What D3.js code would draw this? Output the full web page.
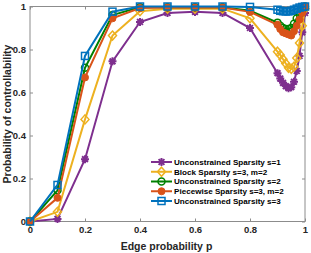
<!DOCTYPE html>
<html>
<head>
<meta charset="utf-8">
<script src="https://cdn.jsdelivr.net/npm/d3@7"></script>
<style>
  body { margin: 0; background: #fff; }
  svg { display: block; font-family: "Liberation Sans", Arial, sans-serif; }
</style>
</head>
<body>
<svg id="chart" width="311" height="253"></svg>
<script>
// edge probability grid (dense near 1)
const edgeP = [0, 0.1, 0.2, 0.3, 0.4, 0.5, 0.6, 0.7, 0.8,
               0.9, 0.91, 0.92, 0.93, 0.94, 0.95, 0.96, 0.97, 0.98, 0.99, 1];

const unconS1 = [0, 0.012, 0.29, 0.745, 0.928, 0.97, 0.975, 0.97, 0.90,
                 0.69, 0.665, 0.645, 0.63, 0.62, 0.625, 0.65, 0.70, 0.77, 0.88, 0.97];
const blockS3 = [0, 0.045, 0.475, 0.865, 0.978, 0.99, 0.99, 0.99, 0.945,
                 0.79, 0.775, 0.755, 0.735, 0.715, 0.71, 0.72, 0.76, 0.83, 0.91, 0.99];
const unconS2 = [0, 0.145, 0.715, 0.96, 0.997, 0.997, 0.997, 0.997, 0.98,
                 0.925, 0.91, 0.90, 0.895, 0.895, 0.90, 0.92, 0.945, 0.965, 0.985, 1];
const pieceS3 = [0, 0.11, 0.67, 0.945, 0.993, 0.995, 0.995, 0.995, 0.975,
                 0.915, 0.895, 0.88, 0.875, 0.87, 0.865, 0.885, 0.91, 0.94, 0.97, 1];
const unconS3 = [0, 0.17, 0.77, 0.976, 1, 1, 1, 1, 0.998,
                 0.985, 0.98, 0.978, 0.977, 0.977, 0.98, 0.985, 0.99, 0.995, 0.998, 1];

const seriesNames = ['Unconstrained Sparsity s=1', 'Block Sparsity s=3, m=2',
                     'Unconstrained Sparsity s=2', 'Piecewise Sparsity s=3, m=2',
                     'Unconstrained Sparsity s=3'];
const xTicks = [0, 0.2, 0.4, 0.6, 0.8, 1];
const yTicks = [0, 0.2, 0.4, 0.6, 0.8, 1];

const series = [
  {name: seriesNames[0], values: unconS1, color: '#7e2f8e', marker: 'star'},
  {name: seriesNames[1], values: blockS3, color: '#edb120', marker: 'diamond'},
  {name: seriesNames[2], values: unconS2, color: '#008000', marker: 'circle'},
  {name: seriesNames[3], values: pieceS3, color: '#d95319', marker: 'dot'},
  {name: seriesNames[4], values: unconS3, color: '#0072bd', marker: 'square'}
];

let margin = {top: 6.5, right: 6, bottom: 31.5, left: 30};
let width = 311 - margin.left - margin.right;
let height = 253 - margin.top - margin.bottom;

const svg = d3.select('#chart');
let chart = svg.append('g')
    .attr('transform', `translate(${margin.left}, ${margin.top})`);

let x = d3.scaleLinear().domain([0, 1]).range([0, width]);
let y = d3.scaleLinear().domain([0, 1]).range([height, 0]);

const axisColor = '#8c8c8c';

// box
chart.append('rect')
    .attr('width', width).attr('height', height)
    .attr('fill', 'none').attr('stroke', axisColor).attr('stroke-width', 1);

function styleAxis(g) {
    g.select('.domain').attr('stroke', axisColor);
    g.selectAll('.tick line').attr('stroke', axisColor);
    g.selectAll('text').attr('fill', '#262626').style('font-weight', 'bold').style('font-size', '9.5px');
}

chart.append('g')
    .call(d3.axisLeft(y).tickValues(yTicks).tickFormat(d3.format('')).tickSizeInner(-3).tickSizeOuter(0).tickPadding(4))
    .call(styleAxis)
    .call(g => g.select('.domain').remove());

chart.append('g')
    .attr('transform', `translate(${width}, 0)`)
    .call(d3.axisRight(y).tickValues(yTicks).tickFormat('').tickSizeInner(-3).tickSizeOuter(0))
    .call(styleAxis)
    .call(g => g.select('.domain').remove());

chart.append('g')
    .attr('transform', `translate(0, ${height})`)
    .call(d3.axisBottom(x).tickValues(xTicks).tickFormat(d3.format('')).tickSizeInner(-3).tickSizeOuter(0).tickPadding(5))
    .call(styleAxis)
    .call(g => g.select('.domain').remove());

chart.append('g')
    .call(d3.axisTop(x).tickValues(xTicks).tickFormat('').tickSizeInner(-3).tickSizeOuter(0))
    .call(styleAxis)
    .call(g => g.select('.domain').remove());

// axis labels
svg.append('text')
    .attr('x', margin.left + width / 2 - 1)
    .attr('y', 250)
    .attr('text-anchor', 'middle')
    .style('font-weight', 'bold').style('font-size', '10.5px').attr('fill', '#262626')
    .text('Edge probability p');

svg.append('text')
    .attr('transform', `translate(11, ${margin.top + height / 2}) rotate(-90)`)
    .attr('text-anchor', 'middle')
    .style('font-weight', 'bold').style('font-size', '10.5px').attr('fill', '#262626')
    .text('Probability of controllability');

function drawMarker(sel, kind, color) {
    if (kind === 'star') {
        sel.append('path')
            .attr('d', 'M-4,0L4,0M0,-4L0,4M-2.9,-2.9L2.9,2.9M-2.9,2.9L2.9,-2.9')
            .attr('stroke', color).attr('stroke-width', 2).attr('fill', 'none');
    } else if (kind === 'diamond') {
        sel.append('path')
            .attr('d', 'M0,-4.5L4,0L0,4.5L-4,0Z')
            .attr('stroke', color).attr('stroke-width', 1.5).attr('fill', 'none');
    } else if (kind === 'circle') {
        sel.append('circle').attr('r', 3.5)
            .attr('stroke', color).attr('stroke-width', 1.5).attr('fill', 'none');
    } else if (kind === 'dot') {
        sel.append('circle').attr('r', 3.5)
            .attr('stroke', color).attr('stroke-width', 1).attr('fill', color);
    } else if (kind === 'square') {
        sel.append('rect').attr('x', -3.5).attr('y', -3.5).attr('width', 7).attr('height', 7)
            .attr('stroke', color).attr('stroke-width', 1.5).attr('fill', 'none');
    }
}

let line = d3.line()
    .x(d => x(d[0]))
    .y(d => y(d[1]));

series.forEach(s => {
    let pts = edgeP.map((p, i) => [p, s.values[i]]);
    let g = chart.append('g');
    g.append('path')
        .datum(pts)
        .attr('d', line)
        .attr('fill', 'none')
        .attr('stroke', s.color)
        .attr('stroke-width', 2);
    g.selectAll('g.m')
        .data(pts)
        .enter()
            .append('g')
            .attr('class', 'm')
            .attr('transform', d => `translate(${x(d[0])}, ${y(d[1])})`)
            .each(function() { drawMarker(d3.select(this), s.marker, s.color); });
});

// legend (no box)
let legend = svg.append('g').attr('transform', 'translate(151, 162)');
let items = legend.selectAll('g')
    .data(series)
    .enter()
        .append('g')
        .attr('transform', (d, i) => `translate(0, ${i * 9.75})`);

items.append('line')
    .attr('x1', 0).attr('x2', 21).attr('y1', 0).attr('y2', 0)
    .attr('stroke', d => d.color).attr('stroke-width', 2);
items.append('g')
    .attr('transform', 'translate(10.5, 0)')
    .each(function(d) { drawMarker(d3.select(this), d.marker, d.color); });
items.append('text')
    .attr('x', 23)
    .attr('y', 2.9)
    .text(d => d.name)
    .style('fill', '#000').style('font-size', '8.1px').style('font-weight', 'bold');
</script>
</body>
</html>
